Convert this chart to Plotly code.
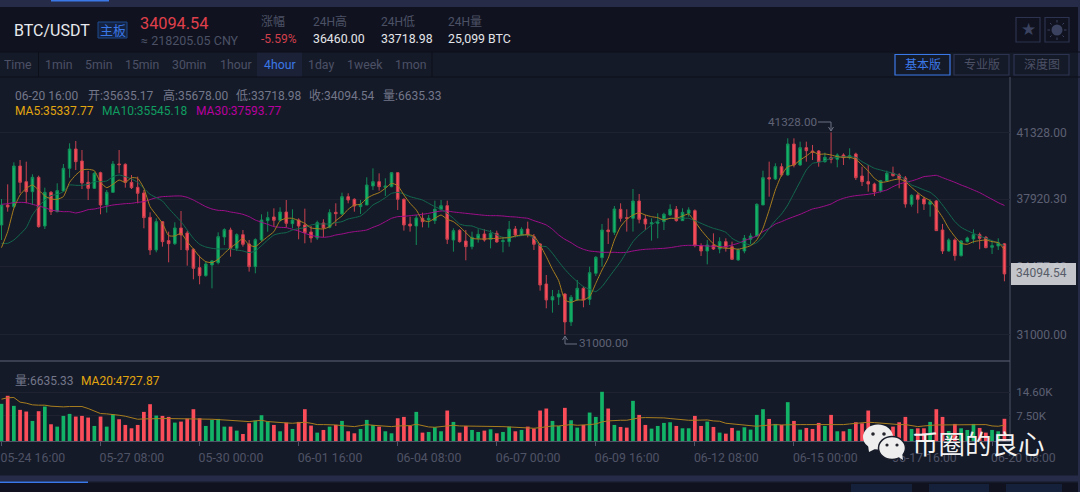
import plotly.graph_objects as go

# --------------------------
# DATA
# --------------------------
opens = [36596,37618,37533,39610,38810,38299,39031,36545,38265,37277,38333,39491,40479,39866,38776,38469,39270,37618,38265,39712,
         39695,38776,38520,38231,36988,35319,36766,35796,35642,36443,36187,35353,34416,34007,34552,34672,35983,36341,35404,36102,
         35625,34467,35830,36817,37005,36835,37260,36664,36852,36596,36239,35932,36698,36477,37243,37158,38044,37908,37533,37618,
         38589,38810,38521,38555,39270,37908,36647,36545,36937,36852,36818,37397,37584,35830,36324,35779,35489,35915,36136,35864,
         36170,35745,35745,36392,36085,36392,36000,35626,33582,32765,32918,33071,31640,32765,33361,32799,34127,34927,36341,36222,
         37397,36971,36937,37822,36903,36647,36681,36767,37107,37397,36818,37192,37329,35541,35268,35574,35370,35745,35489,34808,
         35268,35864,36034,37618,39015,38947,39577,39151,40735,39662,40548,40377,40377,39832,40037,39952,40173,40037,40224,39100,
         38811,38691,38334,38845,39236,39151,38998,37653,38129,37925,37653,37823,36341,35268,35830,35030,35745,35881,36103,35966,
         35456,35524,35635.17]
highs = [37924,38674,39798,39917,39832,39185,39116,38503,38333,38725,39712,40768,40888,40428,39355,39321,39321,38384,39866,40428,
         39747,39151,39065,38384,37243,36936,36800,36255,36732,37311,36289,35404,35029,34723,34808,36221,36426,36460,36170,36341,
         35830,35915,37141,37277,37448,37499,37874,37397,36937,37431,36545,36818,36886,37397,37703,38248,38214,37959,37874,39032,
         39491,39236,38980,39270,39270,37959,37022,37107,37226,37107,37839,37874,37839,36426,36375,36341,36256,36375,36375,36341,
         36307,35966,36801,36545,36477,36767,36136,35660,34042,33275,33275,33105,33020,33786,33446,34467,35012,36647,36937,37567,
         37703,37397,38436,38180,37107,36937,37192,37226,37652,37567,37448,37499,37397,35660,35830,36170,35966,35915,35745,35404,
         36085,36170,37703,39372,39832,39747,39747,41024,41024,40854,40854,40684,40428,40292,41328,40258,40258,40514,40292,39577,
         39662,38760,38896,39372,39577,39236,39100,38163,38215,38044,37908,37874,36648,35915,35915,35830,36000,36375,36205,36035,
         35745,35915,35678]
lows = [35830,37277,37447,38214,37703,37618,36460,36392,37107,37243,38299,39014,39406,38435,37873,38435,37141,37226,38248,39236,
        38503,38435,37703,36426,35063,35200,35489,34689,35574,35319,34518,33820,33565,33956,33360,34586,35574,34978,35268,35489,
        34212,34127,35745,36255,36511,36767,36477,36426,35864,35660,35694,35830,35966,36426,36545,37107,37703,37277,37158,37618,
        38384,38350,38078,38521,37363,36307,36256,35574,36477,36460,36647,37329,35626,35234,35694,34791,35353,35694,35745,35404,
        35694,35200,35489,35966,36034,35966,35319,33241,32339,32117,32509,31000,31436,32730,32390,32509,33990,34467,35626,36085,
        36767,36256,36256,36681,36341,35796,35915,36341,37056,36767,36818,37022,35455,35012,34587,35319,35149,35234,34808,34774,
        35149,35626,36000,37618,38044,38896,39066,39117,39543,39611,39832,39917,39577,39781,39747,39543,39662,39952,38896,38589,
        38300,38078,38249,38811,39066,38470,37482,37533,37193,37363,37022,36307,35115,35234,34774,34979,35694,35660,35354,35405,
        35115,35319,33718.98]
closes = [37618,37516,39610,38776,38299,39031,36511,38265,37277,38350,39491,40479,39832,38742,38469,39236,37618,38265,39712,39678,
          38776,38503,38214,36971,35319,36766,35745,35642,36443,36085,35319,34382,34007,34603,34757,36000,36358,35404,36102,35608,
          34467,35847,36851,36971,36835,37260,36681,36852,36545,36205,35932,36715,36443,37226,37175,38044,37873,37567,37652,38640,
          38810,38555,38589,39270,37908,36596,36545,36954,36767,36937,37397,37584,35864,36307,35745,35489,35966,36119,35830,36170,
          35728,35796,36375,36085,36375,36085,35609,33531,32765,32935,33071,31640,32901,33361,32765,34161,34944,36341,36256,37414,
          36937,36937,37822,36886,36647,36715,36749,37141,37397,36818,37243,37363,35541,35268,35574,35370,35745,35455,34842,35319,
          35915,36034,37652,39015,38947,39577,39151,40735,39662,40548,40394,40309,39832,40054,39952,40173,40037,40139,39015,38811,
          38691,38300,38862,39236,39117,38981,37670,38112,37908,37670,37789,36307,35268,35830,35030,35779,35932,36103,35915,35439,
          35541,35694,34094.54]
volumes = [11100,13500,10500,9300,8800,6000,8900,10300,5000,4300,7500,8100,7300,7500,7000,4500,7300,4300,8000,6500,
           4800,3800,4800,8700,11000,7600,7500,7200,5500,5800,6700,9500,6800,4500,6300,6600,4300,4300,3100,2100,
           5300,6100,7700,5800,4800,2900,5500,3600,5700,9500,4600,2500,3300,4300,4800,6000,2900,2300,3600,6300,
           4800,4300,2900,2300,6800,7200,4500,8700,2500,2700,4100,2900,9100,5700,2500,4500,3300,2700,3100,3500,
           2300,2700,4300,2900,3300,4300,3700,9100,9700,6000,4500,9900,6200,4000,4800,8500,7200,14700,9700,4800,
           4200,4000,12000,7800,4800,3700,4500,5400,5600,4500,3800,3800,7500,4500,5800,4200,2500,2200,3900,3100,
           4100,3400,7800,9500,6600,5100,4800,11600,6000,3400,3900,3600,5400,4500,7800,2900,2900,3600,5600,5300,
           9100,3300,3800,3800,4300,5600,7200,3600,3800,3800,5700,9500,7200,3000,5100,3800,3300,5100,3900,2500,
           3300,2900,6635.33]
ma5 = [35438,36255,37447,38129,38469,38640,38384,38078,37924,37907,38044,38776,39151,39406,39440,39372,38776,38503,38674,38895,
       38776,39014,38980,38469,37533,37107,36681,36051,36034,36170,35745,35370,34978,34723,34672,34842,35149,35438,35660,35915,
       35574,35489,35745,36000,36256,36818,36937,36937,36818,36681,36443,36409,36392,36511,36818,37056,37397,37618,37652,37959,
       38129,38248,38470,38725,38606,38129,37703,37363,36852,36767,36937,37107,36886,36767,36511,36205,35915,35881,35881,35898,
       35915,35932,35949,36034,36085,36102,36034,35574,34978,34331,33752,32765,32645,32765,32765,32935,33616,34297,34893,35830,
       36511,36886,37107,37226,37107,37022,36971,36852,36937,36937,37056,37158,36767,36341,35966,35626,35455,35404,35404,35353,
       35438,35541,35830,36426,37363,38385,39151,39577,39662,39917,40122,40343,40207,40224,40173,40088,40054,40054,39952,39662,
       39356,38981,38776,38811,38896,38947,38811,38521,38249,38010,37840,37448,36988,36426,36000,35660,35609,35745,35796,35830,
       35745,35694,35337.77]
ma10 = [35659,35659,35830,36119,36460,37107,37533,37873,38095,38163,38299,38640,38623,38623,38674,38810,38810,38844,39065,39151,
        39065,38946,38776,38469,38163,37993,37822,37447,37107,36766,36340,35915,35608,35472,35404,35370,35370,35370,35319,35268,
        35183,35268,35540,35830,36085,36170,36205,36341,36409,36460,36596,36647,36647,36647,36715,36767,36903,36971,37056,37311,
        37618,37788,37993,38214,38265,38180,38044,37959,37873,37703,37533,37397,37192,36937,36647,36562,36545,36426,36341,36256,
        36085,35966,35949,36000,36051,36085,35915,35523,35489,35149,34723,34331,33991,33701,33446,33310,33190,33446,33872,34297,
        34723,35234,35745,36085,36341,36596,36818,36903,36937,36937,36937,36937,36818,36681,36545,36426,36341,36222,35915,35745,
        35660,35574,35694,36000,36426,36818,37159,37618,38215,38811,39407,39747,39798,39883,40003,40054,40088,40088,40054,39832,
        39662,39492,39407,39322,39236,39117,38930,38640,38521,38385,38265,38010,37618,37193,36767,36477,36307,36171,36035,35915,
        35796,35660,35545.18]
ma30 = [37652,37686,37737,37754,37737,37652,37567,37482,37362,37311,37277,37277,37209,37277,37379,37413,37482,37550,37618,37652,
        37686,37703,37754,37788,37890,37993,38044,38061,38078,38078,38010,37873,37703,37533,37413,37345,37328,37260,37209,37141,
        37022,36851,36732,36630,36511,36477,36460,36375,36290,36170,36068,36000,35966,36000,36085,36136,36205,36256,36290,36341,
        36477,36596,36767,36937,37022,37039,37073,37107,37141,37192,37260,37311,37311,37260,37226,37192,37158,37124,37090,37073,
        37073,37056,37022,37005,36971,36937,36818,36716,36596,36375,36085,35864,35694,35489,35353,35268,35234,35200,35200,35200,
        35183,35200,35268,35319,35353,35370,35387,35404,35438,35489,35540,35557,35557,35540,35523,35506,35489,35489,35574,35660,
        35796,35915,36034,36256,36426,36647,36767,36903,37022,37141,37278,37414,37482,37567,37669,37840,37959,38044,38095,38129,
        38163,38215,38300,38385,38555,38691,38776,38845,38947,39066,39100,39134,39015,38896,38776,38640,38521,38385,38249,38078,
        37908,37738,37593.77]
vol_ma20 = [12500,12900,13000,11600,11300,10800,10700,10700,10400,10200,10200,10300,10300,10300,9700,8900,8200,8100,8000,7700,
            7400,6900,6500,6600,6700,6700,6700,6700,6700,6700,6700,6700,6600,6500,6500,6400,6300,6200,6000,5800,
            5800,6000,6200,5800,5600,5500,5400,5300,5400,5600,5300,4900,4900,4900,4800,4600,4400,4300,4600,4900,
            4700,4500,4300,4300,4500,4500,4600,5000,4500,4200,4100,4300,4700,4700,4500,4500,4500,4500,4400,4400,
            4300,4300,4200,4100,3900,3900,3800,4000,4300,4500,4500,4800,4900,4700,4700,4900,5100,5700,6000,6200,
            6200,6200,6600,6900,7000,7000,7000,6900,6700,6500,6300,6200,6200,6300,6300,6000,5900,5300,5100,5000,
            4900,4600,4400,4600,4800,4900,4800,4900,4900,4900,4900,4900,4900,4800,4900,4900,4900,5100,5300,5400,
            5600,5500,5300,5100,4900,4900,4900,4600,4300,4500,4700,4800,4800,4800,4800,4800,4900,5000,5000,4900,
            4500,4400,4727.87]

for name, arr in [("opens", opens), ("highs", highs), ("lows", lows), ("closes", closes), ("volumes", volumes),
                  ("ma5", ma5), ("ma10", ma10), ("ma30", ma30), ("vol_ma20", vol_ma20)]:
    if len(arr) != 163:
        raise ValueError(f"{name} has {len(arr)} points")

date_ticks = [0, 16, 32, 48, 64, 80, 96, 112, 128, 144, 160]
date_labels = ["05-24 16:00", "05-27 08:00", "05-30 00:00", "06-01 16:00", "06-04 08:00", "06-07 00:00",
               "06-09 16:00", "06-12 08:00", "06-15 00:00", "06-17 16:00", "06-20 08:00"]
price_ticks = [41328.00, 37920.30, 34477.60, 31000.00]
vol_ticks = [7500, 14600]
vol_labels = ["7.50K", "14.60K"]

tabs = ["Time", "1min", "5min", "15min", "30min", "1hour", "4hour", "1day", "1week", "1mon"]
tab_x = [4, 45, 85, 125, 172, 220, 264, 308, 347, 395]

RED = "#fb4c5a"
GREEN = "#12b366"
BG = "#151a28"
DARK = "#10131f"
MUTED = "#4c5166"
GRAY = "#73778a"
BLUE = "#3b78e7"
FONT = "Roboto, 'Noto Sans CJK SC', sans-serif"

W, H = 1080, 492
AXIS_X = 1010
xs = list(range(len(closes)))
x_range = [-0.24, 162.9]


def fx(px):
    return px / W


def fy(py):
    return 1 - py / H


fig = go.Figure()

# --------------------------
# CANDLES AND MOVING AVERAGES
# --------------------------
fig.add_trace(go.Candlestick(
    x=xs, open=opens, high=highs, low=lows, close=closes,
    increasing=dict(line=dict(color="#128a58", width=1), fillcolor=GREEN),
    decreasing=dict(line=dict(color="#c8404f", width=1), fillcolor=RED),
    whiskerwidth=0, xaxis="x", yaxis="y", showlegend=False,
))
for values, color in [(ma30, "#a00e8c"), (ma10, "#12694f"), (ma5, "#a87e1e")]:
    fig.add_trace(go.Scatter(x=xs, y=values, mode="lines", line=dict(color=color, width=1, shape="spline", smoothing=0.5),
                             xaxis="x", yaxis="y", showlegend=False))

# --------------------------
# VOLUME
# --------------------------
bar_colors = [GREEN if c >= o else RED for o, c in zip(opens, closes)]
fig.add_trace(go.Bar(x=xs, y=volumes, width=0.6, marker=dict(color=bar_colors, line=dict(width=0)),
                     xaxis="x2", yaxis="y2", showlegend=False))
fig.add_trace(go.Scatter(x=xs, y=vol_ma20, mode="lines", line=dict(color="#a87e1e", width=1),
                         xaxis="x2", yaxis="y2", showlegend=False))

# --------------------------
# PANEL CHROME
# --------------------------
shapes = []


def rect(x0, y0, x1, y1, fill, line=None, layer="below", width=1):
    shapes.append(dict(type="rect", xref="paper", yref="paper", x0=fx(x0), x1=fx(x1), y0=fy(y0), y1=fy(y1),
                       fillcolor=fill, line=dict(color=line, width=width) if line else dict(width=0), layer=layer))


def seg(x0, y0, x1, y1, color, width=1, layer="above"):
    shapes.append(dict(type="line", xref="paper", yref="paper", x0=fx(x0), x1=fx(x1), y0=fy(y0), y1=fy(y1),
                       line=dict(color=color, width=width), layer=layer))


rect(0, 0, W, 7, "#262b48")
rect(51, 0, 109, 1.5, BLUE)
rect(0, 7, W, 52, DARK)
rect(0, 52, W, 77, BG)
rect(257, 52, 302, 77, "#1b2136")
rect(0, 475.5, W, 481.5, "#262b48")
rect(0, 481.5, 88, 483, BLUE)
rect(0, 483, W, H, DARK)
rect(851, 484, 912, H, "#15203a")
rect(929, 484, 989, H, "#15203a")
rect(1006, 484, 1062, H, "#15203a")
rect(1078, 0, W, H, "#262b48")
seg(0, 52, W, 52, "#0d0f18", layer="below")
seg(0, 77, W, 77, "#0d0f18", layer="below")
seg(38.5, 52, 38.5, 77, "#0d0f18", layer="below")
seg(432, 52, 432, 77, "#0d0f18", layer="below")

seg(0, 361, AXIS_X, 361, "#5f6378", layer="below")
seg(AXIS_X, 77, AXIS_X, 441, "#4f5366", layer="below")

# header buttons
rect(98, 22, 127, 38, "#14223f", "#1d4a8f")
rect(895, 54.5, 950, 75, "rgba(0,0,0,0)", BLUE, width=1.2)
rect(954, 54.5, 1009, 75, "rgba(0,0,0,0)", "#2c3350", width=1.2)
rect(1014, 54.5, 1069, 75, "rgba(0,0,0,0)", "#2c3350", width=1.2)
rect(1016, 17.5, 1040, 42, "rgba(0,0,0,0)", "#2c3350", width=1.2)
rect(1045, 17.5, 1069, 42, "rgba(0,0,0,0)", "#2c3350", width=1.2)
shapes.append(dict(type="circle", xref="paper", yref="paper", x0=fx(1051.5), x1=fx(1062.5), y0=fy(24.5), y1=fy(35.5),
                   fillcolor="#3a4260", line=dict(width=0)))
for x0, y0, x1, y1 in [(1057, 20, 1057, 22.5), (1057, 37.5, 1057, 40), (1047.5, 30, 1050, 30), (1064, 30, 1066.5, 30),
                       (1050, 23, 1051.5, 24.5), (1062.5, 35.5, 1064, 37), (1050, 37, 1051.5, 35.5), (1062.5, 24.5, 1064, 23)]:
    seg(x0, y0, x1, y1, "#3a4260")

# high and low callouts
seg(818, 122, 831, 122, "#6d7184")
seg(831, 122, 831, 131, "#6d7184")
seg(828.5, 127, 831, 131, "#6d7184")
seg(833.5, 127, 831, 131, "#6d7184")
seg(565, 336, 565, 344, "#6d7184")
seg(565, 344, 577, 344, "#6d7184")
seg(562.5, 340, 565, 336, "#6d7184")
seg(567.5, 340, 565, 336, "#6d7184")

# last price box
rect(1011, 263, 1076, 285, "rgba(214,216,220,0.9)", layer="above")

# watermark logo
def blob(cx, cy, rx, ry, fill, line=None, width=0):
    shapes.append(dict(type="circle", xref="paper", yref="paper", x0=fx(cx - rx), x1=fx(cx + rx), y0=fy(cy - ry), y1=fy(cy + ry),
                       fillcolor=fill, line=dict(color=line, width=width) if line else dict(width=0), layer="above"))


def triangle(points, fill):
    path = "M " + " L ".join(f"{fx(x)},{fy(y)}" for x, y in points) + " Z"
    shapes.append(dict(type="path", xref="paper", yref="paper", path=path, fillcolor=fill, line=dict(width=0), layer="above"))


blob(878, 437, 15, 12.5, "#eeeeee")
triangle([(868, 445), (869, 452), (877, 448)], "#eeeeee")
blob(892, 448, 13.5, 11.5, "#eeeeee", "#1a1e2b", 1.5)
triangle([(897, 456), (903, 460), (902, 452)], "#eeeeee")
for cx, cy, r in [(873, 434, 1.8), (884, 434, 1.8), (887, 445, 1.6), (897, 445, 1.6)]:
    blob(cx, cy, r, r, "#23242c")

# --------------------------
# TEXT
# --------------------------
annotations = []


def label(px, py, text, color=GRAY, size=12, anchor="left", family=FONT):
    # annotations sit about a pixel to the right of x when left anchored
    shift = -1 if anchor == "left" else 0
    annotations.append(dict(xref="paper", yref="paper", x=fx(px), y=fy(py), text=text, showarrow=False, xanchor=anchor,
                            yanchor="middle", font=dict(color=color, size=size, family=family),
                            borderpad=0, xshift=shift, yshift=0))


label(14, 30, "BTC/USDT", "#e8e9ee", 16)
label(112.5, 30, "主板", BLUE, 13, "center")
label(140, 23, "34094.54", "#e0404c", 16.3)
label(141, 40, "≈ 218205.05 CNY", MUTED, 12.5)
label(261, 22, "涨幅", MUTED, 12)
label(261, 39, "-5.59%", "#d23f4c", 12)
for px, title, value in [(313, "24H高", "36460.00"), (381, "24H低", "33718.98"), (448, "24H量", "25,099 BTC")]:
    label(px, 22, title, MUTED, 12)
    label(px, 39, value, "#e4e5ea", 12.3)

for name, px in zip(tabs, tab_x):
    label(px, 64.5, name, BLUE if name == "4hour" else MUTED, 12.3)

label(922.5, 65, "基本版", BLUE, 12, "center")
label(981.5, 65, "专业版", MUTED, 12, "center")
label(1041.5, 65, "深度图", MUTED, 12, "center")
label(1028, 29.5, "★", "#3a4260", 17, "center", "DejaVu Sans")

for px, text in [(15, "06-20 16:00"), (88, "开:35635.17"), (162.5, "高:35678.00"), (236, "低:33718.98"),
                 (309, "收:34094.54"), (383, "量:6635.33")]:
    label(px, 95.5, text, GRAY, 12)
label(15, 111.5, "MA5:35337.77", "#e2a60f", 12)
label(101.5, 111.5, "MA10:35545.18", "#0f9e60", 12)
label(195.5, 111.5, "MA30:37593.77", "#b8009e", 12)

label(15, 380.5, "量:6635.33", GRAY, 12)
label(81, 380.5, "MA20:4727.87", "#e2a60f", 12)

label(768, 122, "41328.00", "#5f6376", 11.7)
label(579, 342.5, "31000.00", "#5f6376", 11.7)
label(1016, 273, "34094.54", "#585c68", 12)
label(912, 442, "币圈的良心", "#f2f2f2", 26.5, family="'Noto Sans CJK SC'")

# --------------------------
# LAYOUT
# --------------------------
fig.update_layout(
    width=W, height=H, margin=dict(l=0, r=0, t=0, b=0, autoexpand=False), autosize=False,
    paper_bgcolor=BG, plot_bgcolor="rgba(0,0,0,0)", showlegend=False, hovermode=False,
    font=dict(family=FONT), boxgap=0.4, bargap=0.4,
    shapes=shapes, annotations=annotations,
    xaxis=dict(domain=[0, fx(AXIS_X)], range=x_range, anchor="y", showgrid=False, zeroline=False, showticklabels=False,
               rangeslider=dict(visible=False), ticks="", automargin=False),
    yaxis=dict(domain=[fy(361), fy(77)], range=[29646, 44158], side="right", anchor="x", showgrid=True,
               gridcolor="#1e2231", gridwidth=1, zeroline=False, tickmode="array", tickvals=price_ticks,
               ticktext=[f"{v:.2f}" for v in price_ticks], tickfont=dict(color="#5c6073", size=12, family=FONT),
               ticks="outside", ticklen=3, tickcolor="rgba(0,0,0,0)", automargin=False),
    xaxis2=dict(domain=[0, fx(AXIS_X)], range=x_range, anchor="y2", showgrid=False, zeroline=False, showline=True,
                linecolor="#4f5366", linewidth=1, tickmode="array", tickvals=date_ticks, ticktext=date_labels,
                ticks="outside", ticklen=4, tickcolor="#4f5366", ticklabelposition="outside right",
                ticklabeloverflow="allow", ticklabelshift=-2, ticklabelstandoff=5,
                tickfont=dict(color="#4f5366", size=12.3, family=FONT), automargin=False),
    yaxis2=dict(domain=[fy(441), fy(362)], range=[0, 23600], side="right", anchor="x2", showgrid=True,
                gridcolor="#1e2231", gridwidth=1, zeroline=False, tickmode="array", tickvals=vol_ticks, ticktext=vol_labels,
                tickfont=dict(color="#5c6073", size=11.5, family=FONT), ticks="outside", ticklen=3,
                tickcolor="rgba(0,0,0,0)", automargin=False),
)

fig.write_html("out.html", config=dict(displayModeBar=False), post_script="document.body.style.margin='0';")
